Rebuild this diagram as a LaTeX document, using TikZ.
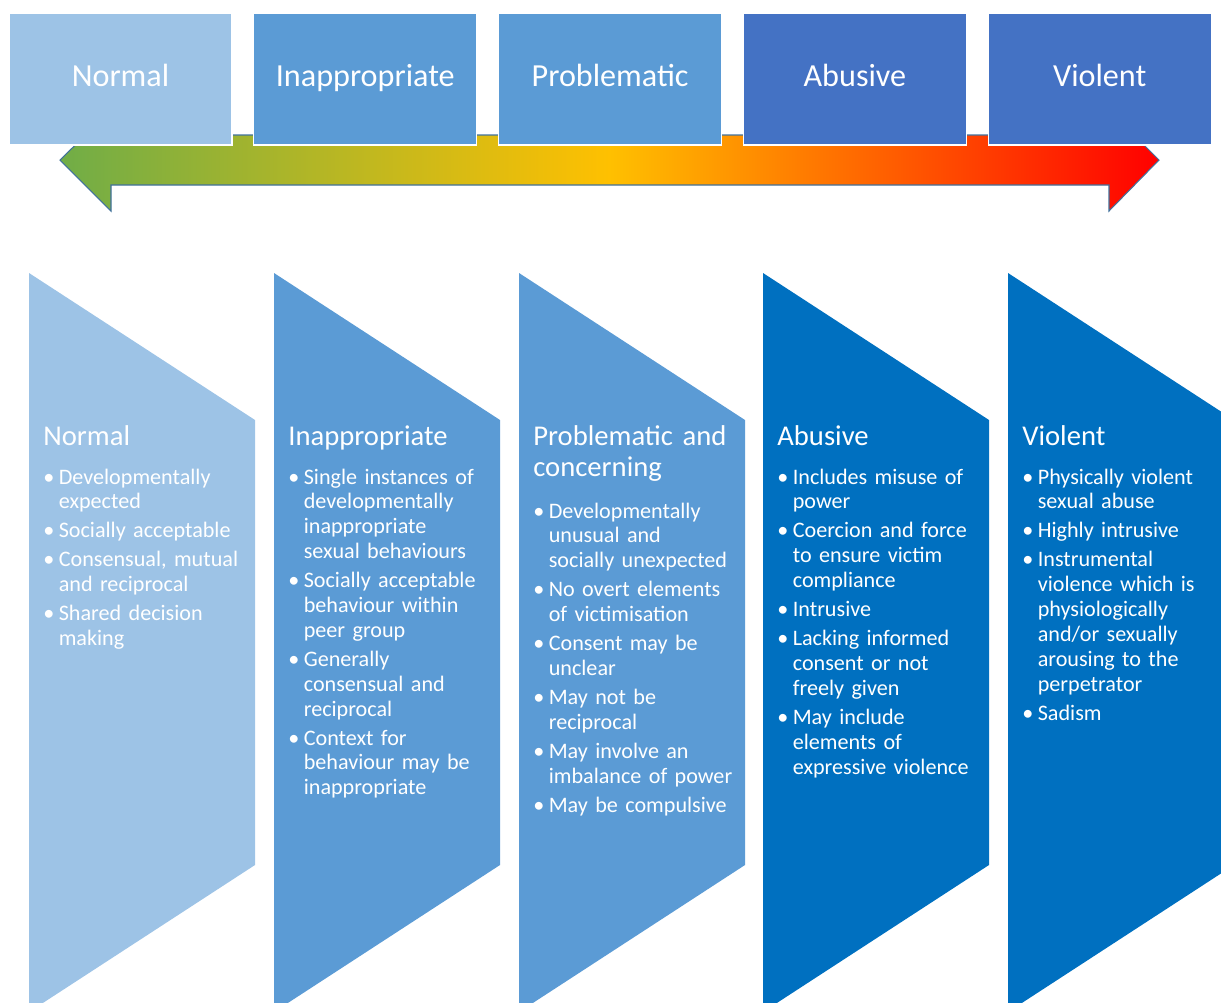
\documentclass[tikz,border=0pt]{standalone}
\usepackage{fontspec}
\setmainfont{Carlito}
\usepackage{xcolor}
\definecolor{paleblue}{HTML}{9DC3E6}
\definecolor{midblue}{HTML}{5B9BD5}
\definecolor{deepblue}{HTML}{0070C0}
\definecolor{headblue}{HTML}{4472C4}
\definecolor{arrowgreen}{HTML}{70AD47}
\definecolor{arrowamber}{HTML}{FFC000}
\definecolor{arrowline}{HTML}{41719C}
% bullets with hanging indent, \nl breaks a line inside one bullet
\newcommand{\firstitem}{\setlength{\parskip}{2.3pt}\noindent\hangindent=8.8pt\hangafter=1\makebox[8.8pt][l]{\textbullet}}
\newcommand{\bitem}{\par\firstitem}
\newcommand{\nl}{\newline}

\begin{document}
\begin{tikzpicture}[x=0.02cm, y=-0.02cm,
    headbox/.style={draw=white, line width=0.6pt, minimum width=4.46cm, minimum height=2.64cm,
        text=white, font=\fontsize{18.3}{20}\selectfont, text height=11.5pt, text depth=3pt},
    paneltitle/.style={anchor=base west, inner sep=0pt, text=white, text width=4.4cm,
        font=\fontsize{16.3}{18.1}\selectfont},
    panelbody/.style={anchor=base west, inner sep=0pt, text=white, text width=4.6cm,
        font=\fontsize{12.6}{14.17}\selectfont}]
    \path[use as bounding box, clip] (0,0) rectangle (1221,1002);

    % Scale arrow, green to red
    \shadedraw[left color=arrowgreen, right color=red, middle color=arrowamber,
        draw=arrowline, line width=0.6pt]
        (60,160) -- (111,110) -- (111,135) -- (1109,135) -- (1109,110) -- (1159,160)
        -- (1109,211) -- (1109,185) -- (111,185) -- (111,211) -- cycle;

    % Header boxes
    \foreach \name/\lbl/\col [count=\i from 0] in {hnormal/Normal/paleblue,
        hinapp/Inappropriate/midblue, hprob/Problematic/midblue,
        habuse/Abusive/headblue, hviol/Violent/headblue} {
        \node[headbox, fill=\col] (\name) at ({120.5+244.8*\i},79) {\lbl};
    }

    % Chevron panels
    \foreach \px/\col in {29/paleblue, 274/midblue, 519/midblue, 763/deepblue, 1008/deepblue} {
        \fill[\col] (\px,273) -- ++(226,147) -- ++(0,445) -- ++(-226,147) -- cycle;
    }

    % Normal
    \node[paneltitle] (tnormal) at (43,445) {Normal};
    \node[panelbody] (bnormal) at (43,484) {\firstitem Developmentally\nl expected
        \bitem Socially acceptable
        \bitem Consensual, mutual\nl and reciprocal
        \bitem Shared decision\nl making\par};

    % Inappropriate
    \node[paneltitle] (tinapp) at (288,445) {Inappropriate};
    \node[panelbody] (binapp) at (288,484) {\firstitem Single instances of\nl developmentally\nl inappropriate\nl sexual behaviours
        \bitem Socially acceptable\nl behaviour within\nl peer group
        \bitem Generally\nl consensual and\nl reciprocal
        \bitem Context for\nl behaviour may be\nl inappropriate\par};

    % Problematic and concerning
    \node[paneltitle] (tprob) at (533,445) {Problematic and\\concerning};
    \node[panelbody] (bprob) at (533,518) {\firstitem Developmentally\nl unusual and\nl socially unexpected
        \bitem No overt elements\nl of victimisation
        \bitem Consent may be\nl unclear
        \bitem May not be\nl reciprocal
        \bitem May involve an\nl imbalance of power
        \bitem May be compulsive\par};

    % Abusive
    \node[paneltitle] (tabuse) at (777,445) {Abusive};
    \node[panelbody] (babuse) at (777,484) {\firstitem Includes misuse of\nl power
        \bitem Coercion and force\nl to ensure victim\nl compliance
        \bitem Intrusive
        \bitem Lacking informed\nl consent or not\nl freely given
        \bitem May include\nl elements of\nl expressive violence\par};

    % Violent
    \node[paneltitle] (tviol) at (1022,445) {Violent};
    \node[panelbody] (bviol) at (1022,484) {\firstitem Physically violent\nl sexual abuse
        \bitem Highly intrusive
        \bitem Instrumental\nl violence which is\nl physiologically\nl and/or sexually\nl arousing to the\nl perpetrator
        \bitem Sadism\par};
\end{tikzpicture}
\end{document}
